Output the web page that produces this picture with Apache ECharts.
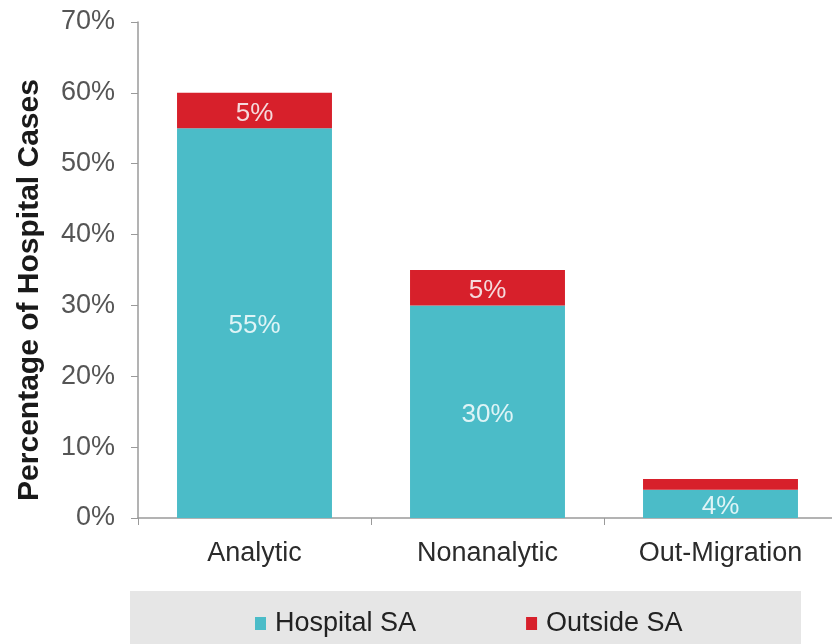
<!DOCTYPE html>
<html>
<head>
<meta charset="utf-8">
<script src="https://cdn.jsdelivr.net/npm/echarts@6/dist/echarts.min.js"></script>
<style>
  html, body { margin: 0; padding: 0; background: #ffffff; }
  #chart { width: 832px; height: 644px; }
</style>
</head>
<body>
<div id="chart"></div>
<script>
// Case categories along the x axis
const categories = ['Analytic', 'Nonanalytic', 'Out-Migration'];
// Share of hospital cases (%) by residence
const hospitalSA = [55, 30, 4];
const outsideSA = [5, 5, 1.5];
// Which segments carry a printed value
const hospitalLabelShown = [true, true, true];
const outsideLabelShown = [true, true, false];

const FONT = 'Liberation Sans, Arial, sans-serif';
const TEAL = '#4bbcc8';
const RED = '#d7202b';

const chart = echarts.init(document.getElementById('chart'), null, { renderer: 'canvas' });

function segData(values, shown) {
  return values.map((v, i) => ({
    value: v,
    label: { show: shown[i] }
  }));
}

const labelStyle = {
  position: 'inside',
  offset: [0, 3],
  formatter: '{c}%',
  color: '#dff4f6',
  fontFamily: FONT,
  fontSize: 26
};

chart.setOption({
  animation: false,
  backgroundColor: '#ffffff',
  grid: {
    left: 138,
    right: -5,
    top: 22,
    bottom: 126,
    containLabel: false,
    outerBoundsMode: 'none'
  },
  graphic: [
    {
      type: 'rect',
      z: -1,
      shape: { x: 130, y: 591, width: 671, height: 60 },
      style: { fill: '#e6e6e6' }
    },
    {
      type: 'text',
      x: 30,
      y: 290,
      rotation: Math.PI / 2,
      style: {
        text: 'Percentage of Hospital Cases',
        fontFamily: FONT,
        fontSize: 30,
        fontWeight: 'bold',
        fill: '#1a1a1a',
        align: 'center',
        verticalAlign: 'middle'
      }
    }
  ],
  legend: {
    left: 255,
    top: 610,
    padding: 0,
    itemWidth: 11,
    itemHeight: 13,
    itemGap: 110,
    icon: 'rect',
    textStyle: { fontFamily: FONT, fontSize: 27, color: '#222222', padding: [0, 0, 0, 4] },
    data: ['Hospital SA', 'Outside SA']
  },
  xAxis: {
    type: 'category',
    data: categories,
    boundaryGap: true,
    axisLine: { lineStyle: { color: '#9a9a9a', width: 1.5 } },
    axisTick: { show: true, length: 7, lineStyle: { color: '#9a9a9a' } },
    axisLabel: {
      margin: 22,
      fontFamily: FONT,
      fontSize: 27,
      color: '#2b2b2b'
    }
  },
  yAxis: {
    type: 'value',
    min: 0,
    max: 70,
    interval: 10,
    splitLine: { show: false },
    axisLine: { show: true, lineStyle: { color: '#9a9a9a', width: 1.5 } },
    axisTick: { show: true, length: 7, lineStyle: { color: '#9a9a9a' } },
    axisLabel: {
      formatter: '{value}%',
      margin: 23,
      fontFamily: FONT,
      fontSize: 27,
      color: '#555555'
    }
  },
  series: [
    {
      name: 'Hospital SA',
      type: 'bar',
      stack: 'cases',
      barWidth: '66.5%',
      itemStyle: { color: TEAL },
      label: labelStyle,
      data: segData(hospitalSA, hospitalLabelShown)
    },
    {
      name: 'Outside SA',
      type: 'bar',
      stack: 'cases',
      barWidth: '66.5%',
      itemStyle: { color: RED },
      label: Object.assign({}, labelStyle, { color: '#f5dadc' }),
      data: segData(outsideSA, outsideLabelShown)
    }
  ]
});
</script>
</body>
</html>
